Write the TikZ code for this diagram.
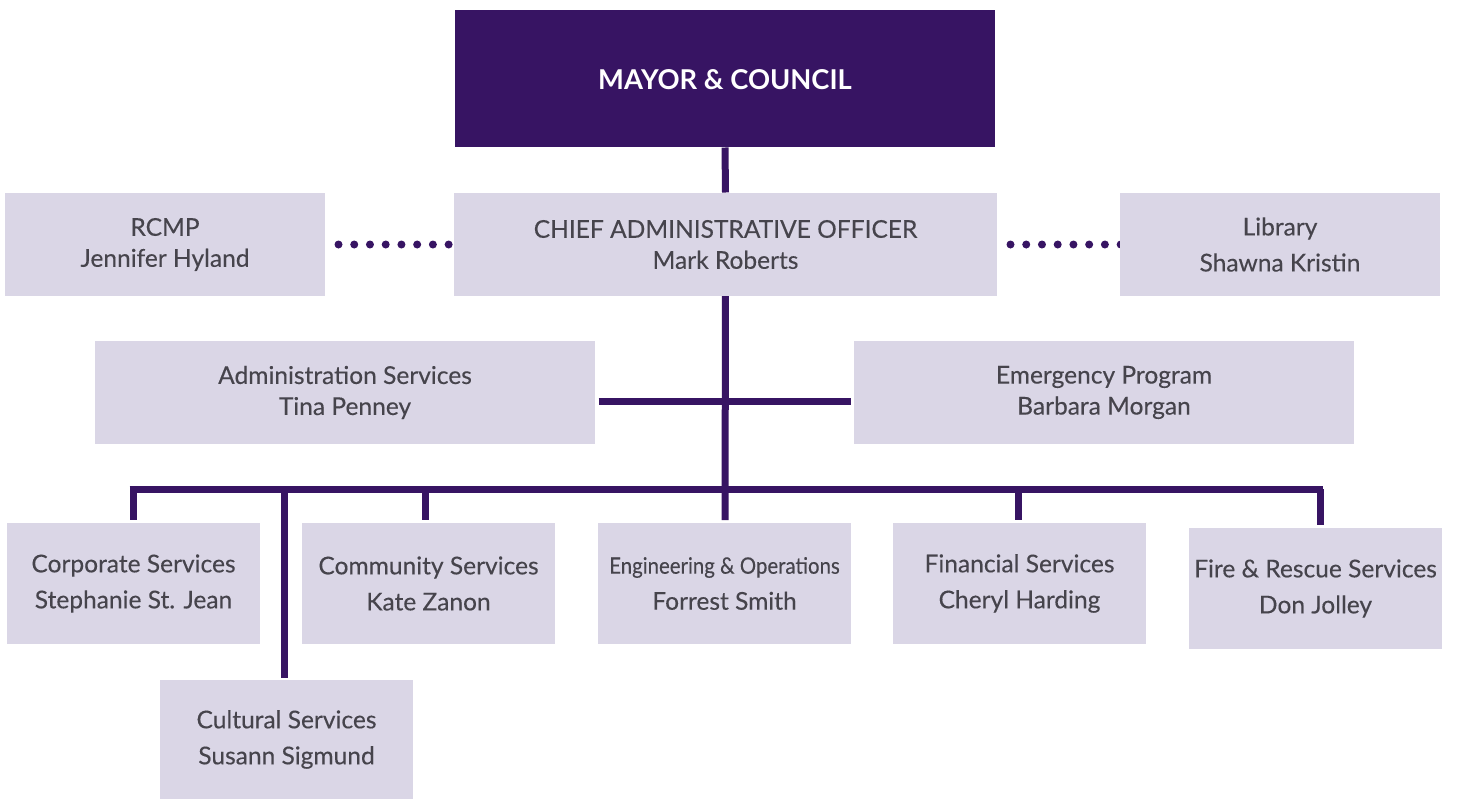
\documentclass[tikz,border=0pt]{standalone}
\usepackage{fontspec}
\setmainfont{Lato}
\usetikzlibrary{backgrounds}

\definecolor{council}{RGB}{55,20,99}
\definecolor{boxfill}{RGB}{218,214,230}
\definecolor{boxtext}{RGB}{70,68,76}

\tikzset{every picture/.style={line width=0.75pt}}
\tikzset{
  unit/.style={fill=boxfill, inner sep=0pt, align=center, text=boxtext,
    font=\fontsize{18.4}{27}\selectfont\addfontfeatures{FakeBold=0.25}},
  headunit/.style={unit, minimum height=77.25pt,
    font=\fontsize{18.4}{23.25}\selectfont\addfontfeatures{FakeBold=0.25}},
  link/.style={draw=council, line width=5.25pt},
  dotlink/.style={draw=council, line width=6pt, line cap=round,
    dash pattern=on 0pt off 11.8pt}
}

\begin{document}
\begin{tikzpicture}[x=0.75pt,y=0.75pt,yscale=-1,xscale=1]
\useasboundingbox (0,0) rectangle (1457,800);

%Shape: Rectangle [id:council]
\node [fill=council, text=white, inner sep=0pt, minimum width=405pt, minimum height=102.75pt,
  font=\fontsize{20.5}{24}\selectfont\bfseries] (mayor) at (725,78.5)
  {\raisebox{-8.5pt}[0pt][0pt]{MAYOR \& COUNCIL}};

% top row
\node [headunit, minimum width=407.25pt] (cao) at (725.5,244.5)
  {CHIEF ADMINISTRATIVE OFFICER\\Mark Roberts};
\node [headunit, minimum width=240pt] (rcmp) at (165,244.5)
  {RCMP\\Jennifer Hyland};
\node [unit, minimum width=240pt, minimum height=77.25pt] (library) at (1280,244.5)
  {Library\\Shawna Kristin};

% second row
\node [headunit, minimum width=375pt] (admin) at (345,392.5)
  {Administration Services\\Tina Penney};
\node [headunit, minimum width=375pt] (emergency) at (1104,392.5)
  {Emergency Program\\Barbara Morgan};

% departments
\node [unit, minimum width=189.75pt, minimum height=90.75pt] (corporate) at (133.5,583.5)
  {Corporate Services\\Stephanie St. Jean};
\node [unit, minimum width=189.75pt, minimum height=90.75pt] (community) at (428.5,583.5)
  {Community Services\\Kate Zanon};
\node [unit, minimum width=189.75pt, minimum height=90.75pt] (engineering) at (724.5,583.5)
  {{\fontsize{17}{27}\selectfont\addfontfeatures{FakeStretch=0.9}Engineering \& Operations}\\Forrest Smith};
\node [unit, minimum width=189.75pt, minimum height=90.75pt] (financial) at (1019.5,583.5)
  {Financial Services\\Cheryl Harding};
\node [unit, minimum width=189.75pt, minimum height=90.75pt] (fire) at (1315.5,588.5)
  {Fire \& Rescue Services\\Don Jolley};
\node [unit, minimum width=189.75pt, minimum height=89.25pt] (cultural) at (286.5,739.5)
  {Cultural Services\\Susann Sigmund};

\coordinate (busL) at (133,489);
\coordinate (busR) at (1320,489);

\begin{pgfonlayer}{background}
%Straight Lines
\draw [link] (mayor.south) -- (cao.north);
\draw [link] ([yshift=-3pt]cao.south) -- (725,520);
\draw [link] ([xshift=2.25pt,yshift=6.5pt]admin.east) -- ([xshift=-2.25pt,yshift=6.5pt]emergency.west);
\draw [link] ([xshift=-2.6pt]busL) -- ([xshift=2.6pt]busR);
\draw [link] (busL) -- (133,520);
\draw [link] (284,489) -- (284,678);
\draw [link] (425,489) -- (425,520);
\draw [link] (1018,489) -- (1018,520);
\draw [link] (busR) -- (1320,525);
%Dotted Lines
\draw [dotlink] ([xshift=9.75pt]rcmp.east) -- (cao.west);
\draw [dotlink] ([xshift=9.75pt]cao.east) -- ([xshift=3pt]library.west);
\end{pgfonlayer}

\end{tikzpicture}
\end{document}
